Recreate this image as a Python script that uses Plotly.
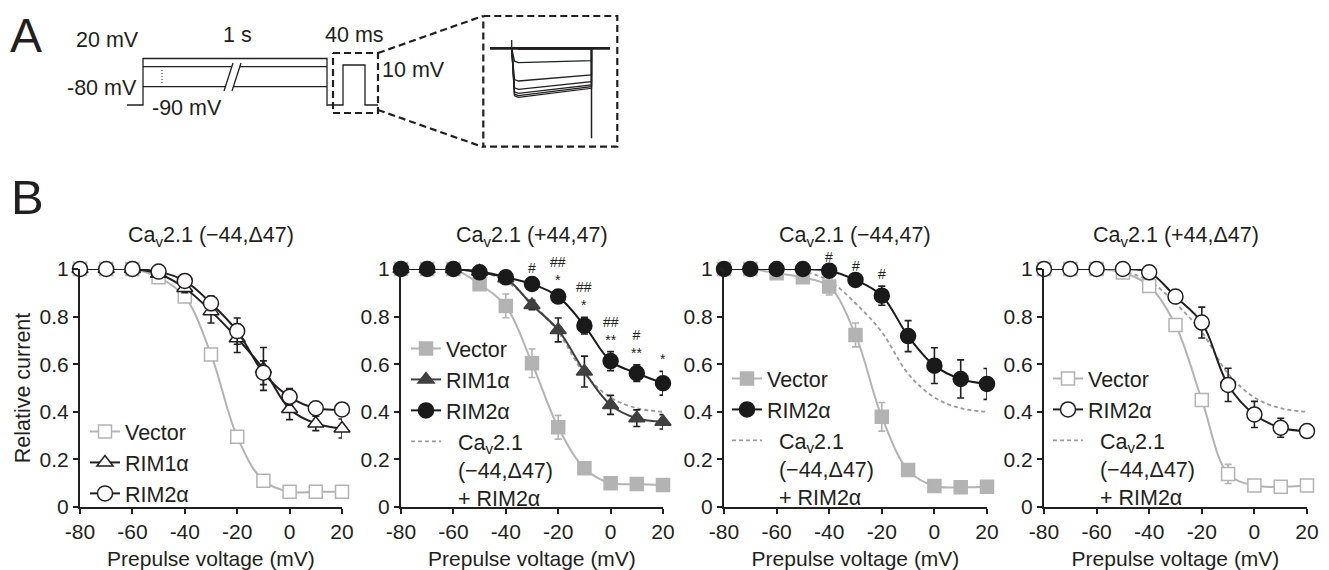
import plotly.graph_objects as go

# page is 1329x570; the html body has an 8px margin, so the figure is sized to fit
PAGE_W, PAGE_H = 1329, 570
OFF = 8
W, H = PAGE_W - OFF, PAGE_H - OFF
FONT = "Liberation Sans, Arial, sans-serif"
INK = "#231f20"
GRAY = "#b3b3b3"
DGRAY = "#404040"
BLACK = "#1a1a1a"
DASH_GRAY = "#9a9a9a"

# ---------------- data ----------------
voltages = [-80, -70, -60, -50, -40, -30, -20, -10, 0, 10, 20]
x_tick_vals = [-80, -60, -40, -20, 0, 20]
x_tick_text = ["-80", "-60", "-40", "-20", "0", "20"]
y_tick_vals = [0, 0.2, 0.4, 0.6, 0.8, 1]
y_tick_text = ["0", "0.2", "0.4", "0.6", "0.8", "1"]

panel_titles = ["Ca<sub>v</sub>2.1 (\u221244,\u039447)",
                "Ca<sub>v</sub>2.1 (+44,47)",
                "Ca<sub>v</sub>2.1 (\u221244,47)",
                "Ca<sub>v</sub>2.1 (+44,\u039447)"]

# Panel 1: Cav2.1 (-44,D47)
p1_vector = [1, 1, 1, 0.965, 0.884, 0.641, 0.295, 0.11, 0.064, 0.064, 0.064]
p1_vector_err = [0, 0, 0, 0.01, 0.02, 0.02, 0.02, 0.015, 0.01, 0.01, 0.01]
p1_rim1 = [1, 1, 1, 0.98, 0.92, 0.823, 0.709, 0.58, 0.412, 0.351, 0.33]
p1_rim1_err = [0, 0, 0, 0.01, 0.02, 0.05, 0.06, 0.09, 0.045, 0.03, 0.04]
p1_rim2 = [1, 1, 1, 0.989, 0.95, 0.856, 0.739, 0.564, 0.463, 0.415, 0.41]
p1_rim2_err = [0, 0, 0, 0.005, 0.01, 0.03, 0.055, 0.05, 0.035, 0.02, 0.02]

# Reference curve: Cav2.1 (-44,D47) + RIM2a (dashed in panels 2-4)
ref_rim2 = [1, 1, 1, 0.99, 0.95, 0.856, 0.735, 0.56, 0.46, 0.415, 0.40]

# Panel 2: Cav2.1 (+44,47)
p2_vector = [1, 1, 1, 0.936, 0.845, 0.604, 0.335, 0.163, 0.10, 0.097, 0.092]
p2_vector_err = [0, 0, 0, 0.01, 0.05, 0.06, 0.05, 0.015, 0.01, 0.01, 0.015]
p2_rim1 = [1, 1, 1, 0.99, 0.961, 0.849, 0.744, 0.569, 0.429, 0.373, 0.358]
p2_rim1_err = [0, 0, 0, 0.005, 0.01, 0.02, 0.05, 0.065, 0.04, 0.035, 0.03]
p2_rim2 = [1, 1, 1, 0.986, 0.965, 0.937, 0.884, 0.762, 0.613, 0.562, 0.52]
p2_rim2_err = [0, 0, 0, 0.005, 0.01, 0.015, 0.02, 0.035, 0.04, 0.035, 0.05]
p2_sig_x = [-30, -20, -10, 0, 10, 20]
p2_sig_hash = ["#", "##", "##", "##", "#", ""]
p2_sig_star = ["", "*", "*", "**", "**", "*"]

# Panel 3: Cav2.1 (-44,47)
p3_vector = [1, 1, 0.982, 0.965, 0.926, 0.723, 0.379, 0.155, 0.088, 0.083, 0.085]
p3_vector_err = [0, 0, 0.005, 0.01, 0.035, 0.05, 0.06, 0.02, 0.01, 0.01, 0.01]
p3_rim2 = [1, 1, 1, 1, 0.993, 0.954, 0.888, 0.718, 0.594, 0.538, 0.517]
p3_rim2_err = [0, 0, 0, 0, 0.005, 0.01, 0.04, 0.065, 0.075, 0.08, 0.065]
p3_sig_x = [-40, -30, -20]
p3_sig_hash = ["#", "#", "#"]
p3_sig_star = ["", "", ""]

# Panel 4: Cav2.1 (+44,D47)
p4_vector = [1, 1, 1, 0.985, 0.929, 0.765, 0.45, 0.139, 0.09, 0.085, 0.09]
p4_vector_err = [0, 0, 0, 0.005, 0.01, 0.01, 0.02, 0.04, 0.015, 0.015, 0.015]
p4_rim2 = [1, 1, 1, 1, 0.986, 0.884, 0.775, 0.513, 0.389, 0.333, 0.319]
p4_rim2_err = [0, 0, 0, 0, 0.005, 0.025, 0.065, 0.07, 0.055, 0.04, 0.02]

# Panel A schematic (drawing units = page pixels)
proto_outer_x = [127, 143, 143, 327, 327, 343, 343, 365, 365, 378]
proto_outer_y = [105, 105, 58.5, 58.5, 105, 105, 65, 65, 105, 105]
proto_levels_y = [66.7, 86.7]
proto_levels_x = [143, 327]
inset_peak_y = [49, 62.7, 81, 89.3, 93.3, 95.7, 97.3]
inset_end_y = [49, 60.7, 75, 81.7, 85, 86.7, 88.3]
inset_baseline_y = 48.3
inset_t = [511.7, 514.5, 518.5, 591.5, 591.5]

# ---------------- helpers (page px -> paper fraction) ----------------
def fx(px):
    return (px - OFF) / W

def fy(py):
    return 1 - (py - OFF) / H

panel_px = [(80, 342), (401, 663), (724, 987), (1044, 1307)]
y_top_px, y_bot_px = 269, 507

fig = go.Figure()

def series(i, y, err, name, style, legend, rank, showlegend=True):
    fill_open = style["open"]
    color = style["color"]
    fig.add_trace(go.Scatter(
        x=voltages, y=y, name=name, mode="lines+markers",
        xaxis="x" if i == 1 else f"x{i}", yaxis="y" if i == 1 else f"y{i}",
        line=dict(shape="spline", smoothing=1.0, color=style["line"], width=2),
        marker=dict(symbol=style["symbol"], size=style["size"],
                    color="white" if fill_open else color,
                    line=dict(color=color, width=1.5)),
        error_y=dict(type="data", array=err, color=style["err"],
                     thickness=1.6, width=3.5),
        cliponaxis=False, legend=legend, legendrank=rank,
        legendgroup=f"{legend}-{rank}", showlegend=showlegend,
    ))

def ref_curve(i, legend):
    fig.add_trace(go.Scatter(
        x=voltages, y=ref_rim2,
        name="\u00a0\u00a0Ca<sub>v</sub>2.1<br>\u00a0\u00a0(\u221244,\u039447)<br>\u00a0\u00a0+ RIM2\u03b1",
        mode="lines", xaxis=f"x{i}", yaxis=f"y{i}",
        line=dict(shape="spline", smoothing=1.0, color=DASH_GRAY, width=1.8, dash="4px,3px"),
        cliponaxis=False, legend=legend, legendrank=10, legendgroup=f"{legend}-ref",
    ))

VEC_OPEN = dict(open=True, color=GRAY, line=GRAY, err=GRAY, symbol="square", size=13)
VEC_FILL = dict(open=False, color=GRAY, line=GRAY, err=GRAY, symbol="square", size=13)
RIM1_OPEN = dict(open=True, color=INK, line=INK, err=INK, symbol="triangle-up", size=14)
RIM1_FILL = dict(open=False, color=DGRAY, line=DGRAY, err=INK, symbol="triangle-up", size=14)
RIM2_OPEN = dict(open=True, color=INK, line=INK, err=INK, symbol="circle", size=15)
RIM2_FILL = dict(open=False, color=BLACK, line=BLACK, err=INK, symbol="circle", size=15)

# Panel 1
series(1, p1_vector, p1_vector_err, "Vector", VEC_OPEN, "legend", 1)
series(1, p1_rim1, p1_rim1_err, "RIM1\u03b1", RIM1_OPEN, "legend", 2)
series(1, p1_rim2, p1_rim2_err, "RIM2\u03b1", RIM2_OPEN, "legend", 3)
# Panel 2
ref_curve(2, "legend2")
series(2, p2_vector, p2_vector_err, "Vector", VEC_FILL, "legend2", 1)
series(2, p2_rim1, p2_rim1_err, "RIM1\u03b1", RIM1_FILL, "legend2", 2)
series(2, p2_rim2, p2_rim2_err, "RIM2\u03b1", RIM2_FILL, "legend2", 3)
# Panel 3
ref_curve(3, "legend3")
series(3, p3_vector, p3_vector_err, "Vector", VEC_FILL, "legend3", 1)
series(3, p3_rim2, p3_rim2_err, "RIM2\u03b1", RIM2_FILL, "legend3", 3)
# Panel 4
ref_curve(4, "legend4")
series(4, p4_vector, p4_vector_err, "Vector", VEC_OPEN, "legend4", 1)
series(4, p4_rim2, p4_rim2_err, "RIM2\u03b1", RIM2_OPEN, "legend4", 3)

# ---------------- axes ----------------
layout_axes = {}
for i, (x0, x1) in enumerate(panel_px, start=1):
    xa = "xaxis" if i == 1 else f"xaxis{i}"
    ya = "yaxis" if i == 1 else f"yaxis{i}"
    xs = "x" if i == 1 else f"x{i}"
    ys = "y" if i == 1 else f"y{i}"
    layout_axes[xa] = dict(
        domain=[fx(x0), fx(x1)], range=[-80, 20], anchor=ys,
        showline=True, linecolor=INK, linewidth=2, mirror=False,
        ticks="outside", ticklen=5, tickwidth=2, tickcolor=INK,
        tickvals=x_tick_vals, ticktext=x_tick_text,
        tickfont=dict(size=21, color=INK, family=FONT),
        showgrid=False, zeroline=False, fixedrange=True, automargin=False,
        title=dict(text="Prepulse voltage (mV)", font=dict(size=21, color=INK, family=FONT), standoff=10),
    )
    layout_axes[ya] = dict(
        domain=[fy(y_bot_px), fy(y_top_px)], range=[0, 1], anchor=xs,
        showline=True, linecolor=INK, linewidth=2,
        ticks="outside", ticklen=5, tickwidth=2, tickcolor=INK,
        tickvals=y_tick_vals, ticktext=y_tick_text,
        tickfont=dict(size=21, color=INK, family=FONT),
        showgrid=False, zeroline=False, fixedrange=True, automargin=False,
        title=dict(text="Relative current" if i == 1 else "",
                   font=dict(size=21.5, color=INK, family=FONT), standoff=3),
    )

# schematic drawing axis (page-pixel units)
layout_axes["xaxis5"] = dict(domain=[0, 1], range=[OFF, PAGE_W], anchor="y5", visible=False, fixedrange=True)
layout_axes["yaxis5"] = dict(domain=[0, 1], range=[PAGE_H, OFF], anchor="x5", visible=False, fixedrange=True)

# ---------------- annotations ----------------
ann = []
for i, (x0, x1) in enumerate(panel_px):
    ann.append(dict(text=panel_titles[i], x=fx((x0 + x1) / 2), y=fy(236), xref="paper", yref="paper",
                    xanchor="center", yanchor="middle", showarrow=False,
                    font=dict(size=21.5, color=INK, family=FONT)))

def sig(i, xs, hashes, stars, vals, errs):
    for x, h, s in zip(xs, hashes, stars):
        k = voltages.index(x)
        top = vals[k] + errs[k]
        text = "<br>".join([t for t in (h, s) if t])
        ann.append(dict(text=text, x=x, y=top, xref=f"x{i}", yref=f"y{i}",
                        xanchor="center", yanchor="bottom", yshift=2, showarrow=False,
                        font=dict(size=14, color=INK, family=FONT)))

sig(2, p2_sig_x, p2_sig_hash, p2_sig_star, p2_rim2, p2_rim2_err)
sig(3, p3_sig_x, p3_sig_hash, p3_sig_star, p3_rim2, p3_rim2_err)

ann.append(dict(text="A", x=fx(8), y=fy(36), xref="paper", yref="paper", xanchor="left", yanchor="middle",
                showarrow=False, font=dict(size=48, color=INK, family=FONT)))
ann.append(dict(text="B", x=fx(9), y=fy(197), xref="paper", yref="paper", xanchor="left", yanchor="middle",
                showarrow=False, font=dict(size=49, color=INK, family=FONT)))

diagram_labels = [("20 mV", 107, 40, "center"), ("1 s", 237, 35, "center"), ("40 ms", 354, 35, "center"),
                  ("10 mV", 380, 70, "left"), ("-80 mV", 139, 88, "right"), ("-90 mV", 150, 108, "left")]
for t, x, y, xa in diagram_labels:
    ann.append(dict(text=t, x=x, y=y, xref="x5", yref="y5", xanchor=xa, yanchor="middle", showarrow=False,
                    font=dict(size=21.5, color=INK, family=FONT)))

# ---------------- schematic traces ----------------
def draw(x, y, color=INK, width=1.3, dash="solid", fill=None, fillcolor=None):
    fig.add_trace(go.Scatter(x=x, y=y, mode="lines", xaxis="x5", yaxis="y5",
                             line=dict(color=color, width=width, dash=dash),
                             fill=fill, fillcolor=fillcolor,
                             showlegend=False, hoverinfo="skip", cliponaxis=False))

draw(proto_outer_x, proto_outer_y)
for ly in proto_levels_y:
    draw(proto_levels_x, [ly, ly])
draw([162, 162], [70, 84], width=1, dash="1px,2px")
# axis break
draw([224, 233, 241, 232, 224], [91, 63, 63, 91, 91], color="white", width=0, fill="toself", fillcolor="white")
draw([224, 233], [91, 63])
draw([232, 241], [91, 63])
# zoom box and connectors
draw([333, 378, 378, 333, 333], [53, 53, 113, 113, 53], width=2.2, dash="7px,4px")
draw([378, 483], [53, 16], width=2.2, dash="7px,4px")
draw([378, 483], [110, 147], width=2.2, dash="7px,4px")
draw([483.3, 617.3, 617.3, 483.3, 483.3], [16, 16, 146.7, 146.7, 16], width=2.2, dash="7px,4px")
# inset current traces
draw([490, 610], [inset_baseline_y, inset_baseline_y], width=2.8)
draw([511.7, 511.7], [inset_baseline_y, 40], width=1.3)
for pk, en in zip(inset_peak_y, inset_end_y):
    draw(inset_t, [inset_baseline_y, pk - 1.5, pk, en, inset_baseline_y], width=1.3)
draw([591.5, 591.5], [inset_baseline_y, 138.3], width=1.5)

# ---------------- legends ----------------
def legend_cfg(px_x, px_top):
    return dict(x=fx(px_x), y=fy(px_top), xanchor="left", yanchor="top",
                bgcolor="rgba(0,0,0,0)", borderwidth=0, tracegroupgap=0,
                font=dict(size=21.5, color=INK, family=FONT), valign="top",
                traceorder="normal", itemwidth=30)

fig.update_layout(
    width=W, height=H, margin=dict(l=0, r=0, t=0, b=0, pad=0, autoexpand=False),
    paper_bgcolor="white", plot_bgcolor="rgba(0,0,0,0)",
    font=dict(family=FONT, color=INK),
    legend=legend_cfg(85, 411),
    legend2=legend_cfg(406, 328),
    legend3=legend_cfg(727, 358),
    legend4=legend_cfg(1048, 358),
    annotations=ann,
    **layout_axes,
)

fig.write_html("out.html")
